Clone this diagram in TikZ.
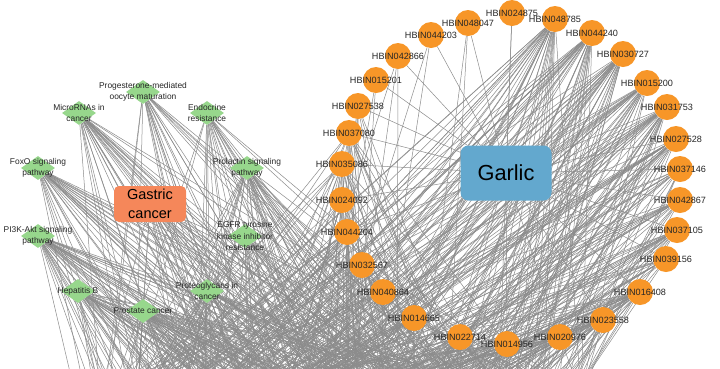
\documentclass[tikz,border=0pt]{standalone}
\usepackage{fontspec}
\setmainfont{Liberation Sans}
\usetikzlibrary{shapes.geometric,backgrounds}

\definecolor{ingrorange}{RGB}{247,150,40}
\definecolor{pwgreen}{RGB}{151,215,140}
\definecolor{gcred}{RGB}{245,135,90}
\definecolor{garblue}{RGB}{99,168,206}
\definecolor{linkgray}{RGB}{140,140,140}

\tikzset{
  ingred/.style={circle,fill=ingrorange,minimum size=26pt,inner sep=0pt},
  ingrlbl/.style={font=\fontsize{9.1}{10}\selectfont,text=black!85,inner sep=0pt},
  pathw/.style={diamond,fill=pwgreen,minimum width=34pt,minimum height=24pt,inner sep=0pt},
  pwlbl/.style={font=\fontsize{8.4}{11.5}\selectfont,align=center,text=black!85,inner sep=0pt},
  link/.style={draw=linkgray,line width=0.5pt},
}

\begin{document}
\begin{tikzpicture}[x=1pt,y=-1pt]
\useasboundingbox (0,0) rectangle (720,368);

% targets lie below the visible part
\foreach \i in {0,...,13} {
  \foreach \j in {0,...,3} {
    \coordinate (t\i-\j) at ({100+(37-2*\j)*\i},{395+35*\j});
  }
}

\node[fill=garblue,rounded corners=8pt,minimum width=91pt,minimum height=55pt,font=\fontsize{21.8}{24}\selectfont] (garlic) at (506,173) {Garlic};
\node[fill=gcred,rounded corners=5pt,minimum width=72pt,minimum height=36pt,inner sep=1pt,align=center,font=\fontsize{14.5}{19}\selectfont] (gastric) at (150,204) {Gastric\\cancer};

\node[pathw,label={[pwlbl]center:{FoxO signaling\\pathway}}] (foxo) at (38,168) {};
\node[pathw,label={[pwlbl]center:{PI3K-Akt signaling\\pathway}}] (pikt) at (38,236) {};
\node[pathw,label={[pwlbl]center:{MicroRNAs in\\cancer}}] (mirna) at (79,113) {};
\node[pathw,label={[pwlbl]center:{Progesterone-mediated\\oocyte maturation}}] (prog) at (143,92) {};
\node[pathw,label={[pwlbl]center:{Endocrine\\resistance}}] (endo) at (207,113) {};
\node[pathw,label={[pwlbl]center:{Prolactin signaling\\pathway}}] (prl) at (247,168) {};
\node[pathw,label={[pwlbl]center:{EGFR tyrosine\\kinase inhibitor\\resistance}}] (egfr) at (245,236) {};
\node[pathw,label={[pwlbl]center:{Hepatitis B}}] (hepb) at (78,291) {};
\node[pathw,label={[pwlbl]center:{Prostate cancer}}] (pros) at (143,311) {};
\node[pathw,label={[pwlbl]center:{Proteoglycans in\\cancer}}] (ptg) at (207,291) {};

\node[ingred,label={[ingrlbl]center:HBIN024875}] (h024875) at (512,13) {};
\node[ingred,label={[ingrlbl]center:HBIN048047}] (h048047) at (468,23) {};
\node[ingred,label={[ingrlbl]center:HBIN048785}] (h048785) at (555,19) {};
\node[ingred,label={[ingrlbl]center:HBIN044240}] (h044240) at (592,33) {};
\node[ingred,label={[ingrlbl]center:HBIN030727}] (h030727) at (623,54) {};
\node[ingred,label={[ingrlbl]center:HBIN015200}] (h015200) at (647,83) {};
\node[ingred,label={[ingrlbl]center:HBIN031753}] (h031753) at (667,107) {};
\node[ingred,label={[ingrlbl]center:HBIN027528}] (h027528) at (676,139) {};
\node[ingred,label={[ingrlbl]center:HBIN037146}] (h037146) at (680,169) {};
\node[ingred,label={[ingrlbl]center:HBIN042867}] (h042867) at (680,200) {};
\node[ingred,label={[ingrlbl]center:HBIN037105}] (h037105) at (677,230) {};
\node[ingred,label={[ingrlbl]center:HBIN039156}] (h039156) at (666,259) {};
\node[ingred,label={[ingrlbl]center:HBIN016408}] (h016408) at (640,292) {};
\node[ingred,label={[ingrlbl]center:HBIN023558}] (h023558) at (603,320) {};
\node[ingred,label={[ingrlbl]center:HBIN020976}] (h020976) at (560,337) {};
\node[ingred,label={[ingrlbl]center:HBIN014956}] (h014956) at (507,344) {};
\node[ingred,label={[ingrlbl]center:HBIN022714}] (h022714) at (460,337) {};
\node[ingred,label={[ingrlbl]center:HBIN014665}] (h014665) at (414,318) {};
\node[ingred,label={[ingrlbl]center:HBIN040864}] (h040864) at (383,292) {};
\node[ingred,label={[ingrlbl]center:HBIN032567}] (h032567) at (362,265) {};
\node[ingred,label={[ingrlbl]center:HBIN044204}] (h044204) at (347,232) {};
\node[ingred,label={[ingrlbl]center:HBIN024092}] (h024092) at (342,200) {};
\node[ingred,label={[ingrlbl]center:HBIN035086}] (h035086) at (342,164) {};
\node[ingred,label={[ingrlbl]center:HBIN037080}] (h037080) at (349,133) {};
\node[ingred,label={[ingrlbl]center:HBIN027538}] (h027538) at (358,106) {};
\node[ingred,label={[ingrlbl]center:HBIN015201}] (h015201) at (376,80) {};
\node[ingred,label={[ingrlbl]center:HBIN042866}] (h042866) at (398,56) {};
\node[ingred,label={[ingrlbl]center:HBIN044203}] (h044203) at (431,35) {};

\begin{scope}[on background layer]
\fill[white] (0,0) rectangle (720,368);
\clip (0,0) rectangle (720,368);
\pgfmathsetseed{11}
\foreach \s/\p in {foxo/0.5,pikt/0.6,mirna/0.5,prog/0.45,endo/0.4,prl/0.45,egfr/0.4,hepb/0.55,pros/0.55,ptg/0.5,gastric/0.5,
  h048785/0.5,h044240/0.5,h030727/0.45,h015200/0.45,h031753/0.45,h027528/0.35,h037146/0.3,h042867/0.3,h037105/0.3,
  h039156/0.3,h016408/0.45,h023558/0.3,h020976/0.3,h014956/0.3,h022714/0.3,h014665/0.3,h040864/0.3,h032567/0.3,
  h044204/0.35,h024092/0.35,h035086/0.3,h037080/0.3,h027538/0.2} {
  \foreach \i in {0,...,13} {
    \foreach \j in {0,...,3} {
      \pgfmathtruncatemacro\hit{rnd<\p}
      \ifnum\hit=1 \draw[link] (\s) -- (t\i-\j); \fi
    }
  }
}
\foreach \s/\t in {h044203/t8-2,h044203/t6-3,h042866/t7-1,h042866/t5-3,h042866/t9-2,h015201/t6-0,h015201/t8-3,
  h048047/t9-1,h048047/t11-3,h024875/t12-2}
  \draw[link] (\s) -- (\t);
\foreach \c in {h024875,h048047,h048785,h044240,h030727,h015200,h031753,h027528,h037146,h042867,h037105,h039156,h016408,h023558,
  h020976,h014956,h022714,h014665,h040864,h032567,h044204,h024092,h035086,h037080,h027538,h015201,h042866,h044203}
  \draw[link] (garlic) -- (\c);
\end{scope}
\end{tikzpicture}
\end{document}
